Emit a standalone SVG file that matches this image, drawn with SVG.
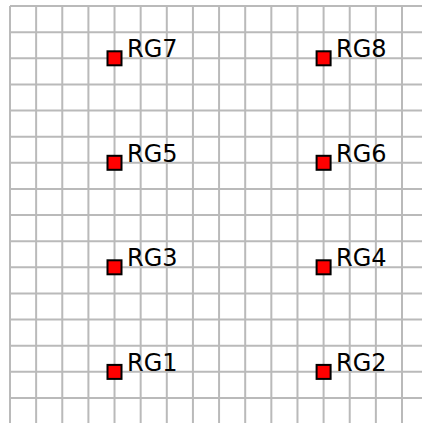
<svg xmlns="http://www.w3.org/2000/svg" width="422" height="423" viewBox="0 0 422 423">
<style>
.grid line{stroke:#bababa;stroke-width:2}
.mk{fill:#ff0000;stroke:#000;stroke-width:2}
.lb{font-family:"DejaVu Sans",sans-serif;font-size:24px;fill:#000}
</style>
<rect width="422" height="423" fill="#fff"/>
<g class="grid" id="grid">
<line x1="10" y1="6" x2="10" y2="423"/>
<line x1="36.13" y1="6" x2="36.13" y2="423"/>
<line x1="62.27" y1="6" x2="62.27" y2="423"/>
<line x1="88.4" y1="6" x2="88.4" y2="423"/>
<line x1="114.53" y1="6" x2="114.53" y2="423"/>
<line x1="140.67" y1="6" x2="140.67" y2="423"/>
<line x1="166.8" y1="6" x2="166.8" y2="423"/>
<line x1="192.93" y1="6" x2="192.93" y2="423"/>
<line x1="219.07" y1="6" x2="219.07" y2="423"/>
<line x1="245.2" y1="6" x2="245.2" y2="423"/>
<line x1="271.33" y1="6" x2="271.33" y2="423"/>
<line x1="297.47" y1="6" x2="297.47" y2="423"/>
<line x1="323.6" y1="6" x2="323.6" y2="423"/>
<line x1="349.73" y1="6" x2="349.73" y2="423"/>
<line x1="375.87" y1="6" x2="375.87" y2="423"/>
<line x1="402" y1="6" x2="402" y2="423"/>
<line x1="10" y1="6" x2="422" y2="6"/>
<line x1="10" y1="32.13" x2="422" y2="32.13"/>
<line x1="10" y1="58.27" x2="422" y2="58.27"/>
<line x1="10" y1="84.4" x2="422" y2="84.4"/>
<line x1="10" y1="110.53" x2="422" y2="110.53"/>
<line x1="10" y1="136.67" x2="422" y2="136.67"/>
<line x1="10" y1="162.8" x2="422" y2="162.8"/>
<line x1="10" y1="188.93" x2="422" y2="188.93"/>
<line x1="10" y1="215.07" x2="422" y2="215.07"/>
<line x1="10" y1="241.2" x2="422" y2="241.2"/>
<line x1="10" y1="267.33" x2="422" y2="267.33"/>
<line x1="10" y1="293.47" x2="422" y2="293.47"/>
<line x1="10" y1="319.6" x2="422" y2="319.6"/>
<line x1="10" y1="345.73" x2="422" y2="345.73"/>
<line x1="10" y1="371.87" x2="422" y2="371.87"/>
<line x1="10" y1="398" x2="422" y2="398"/>
<line x1="10" y1="424.13" x2="422" y2="424.13"/>
</g>
<g id="connectors"></g>
<g id="RG7"><rect class="mk" x="107.5" y="51.3" width="14" height="14"/><text class="lb" x="127" y="57">RG7</text></g>
<g id="RG8"><rect class="mk" x="316.6" y="51.3" width="14" height="14"/><text class="lb" x="336" y="57">RG8</text></g>
<g id="RG5"><rect class="mk" x="107.5" y="155.8" width="14" height="14"/><text class="lb" x="127" y="161.5">RG5</text></g>
<g id="RG6"><rect class="mk" x="316.6" y="155.8" width="14" height="14"/><text class="lb" x="336" y="161.5">RG6</text></g>
<g id="RG3"><rect class="mk" x="107.5" y="260.3" width="14" height="14"/><text class="lb" x="127" y="266">RG3</text></g>
<g id="RG4"><rect class="mk" x="316.6" y="260.3" width="14" height="14"/><text class="lb" x="336" y="266">RG4</text></g>
<g id="RG1"><rect class="mk" x="107.5" y="364.9" width="14" height="14"/><text class="lb" x="127" y="371">RG1</text></g>
<g id="RG2"><rect class="mk" x="316.6" y="364.9" width="14" height="14"/><text class="lb" x="336" y="371">RG2</text></g>
</svg>
